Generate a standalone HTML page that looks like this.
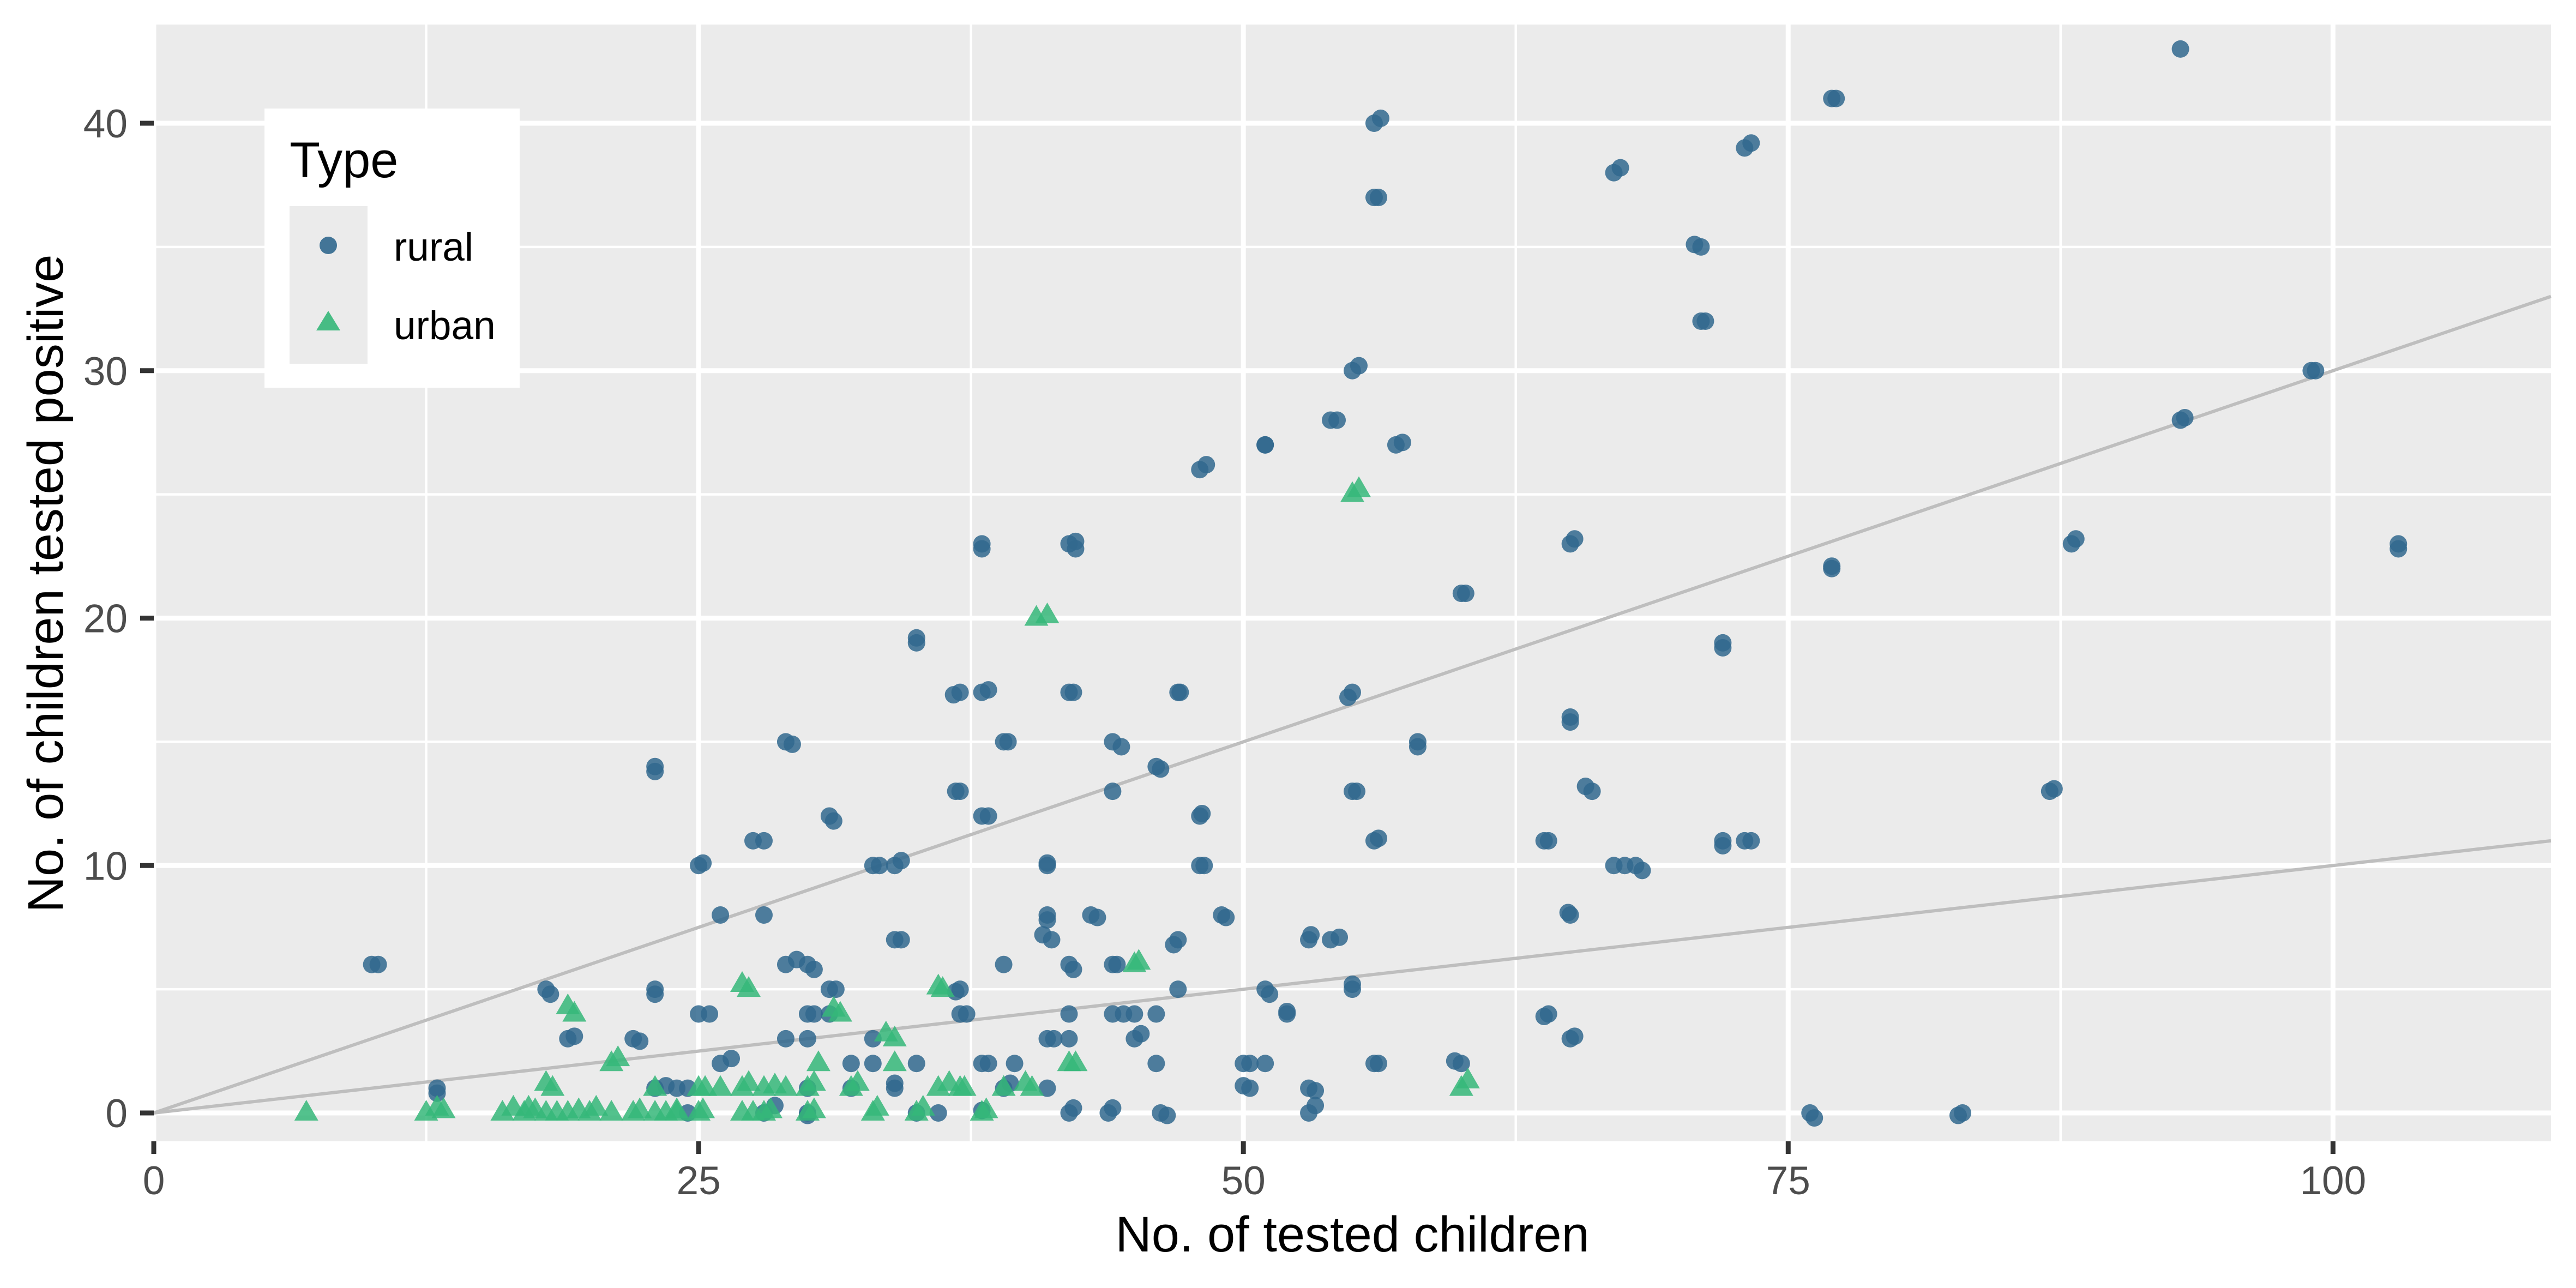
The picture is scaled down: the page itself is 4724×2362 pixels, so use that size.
<!DOCTYPE html>
<html><head><meta charset="utf-8"><style>
html,body{margin:0;padding:0;background:#fff}
svg{display:block;font-family:"Liberation Sans",sans-serif}
</style></head><body>
<svg id="chart" width="4724" height="2362" viewBox="0 0 4724 2362">
<rect x="0" y="0" width="4724" height="2362" fill="#fff"/>
<g id="panel"></g>
<g id="axes"></g>
<text x="2480" y="2295" font-size="92" text-anchor="middle" fill="#000">No. of tested children</text>
<text transform="translate(115,1070) rotate(-90)" font-size="92" text-anchor="middle" fill="#000">No. of children tested positive</text>
<g>
<rect x="485" y="199" width="468" height="512" fill="#fff"/>
<text x="531" y="325" font-size="92" fill="#000">Type</text>
<rect x="531" y="378" width="143" height="289" fill="#EBEBEB"/>
<circle cx="602" cy="450" r="16" fill="#31688E" fill-opacity="0.9"/>
<polygon points="602,570 624,606 580,606" fill="#35B779" fill-opacity="0.9"/>
<text x="722" y="478" font-size="73" fill="#000">rural</text>
<text x="722" y="622" font-size="73" fill="#000">urban</text>
</g>
</svg>
<script>
const xTicks=[0,25,50,75,100];
const yTicks=[0,10,20,30,40];
const xMinor=[12.5,37.5,62.5,87.5];
const yMinor=[5,15,25,35];
const refSlopes=[0.3,0.1];
const ruralX=[10,10.3,13,13,18,18.2,19,19.3,22,22.3,23,23,23,23,23,23.5,24,24.5,25,25.2,25,25.5,24.5,26,26,26.5,27.5,28,28,28,28.5,29,29.3,29,29.5,29,30,30,30.3,30,30.3,30,30,30,31,31.2,31,31.3,31,32,32,33,33.3,33,33,34,34.3,34,34.3,34,34,35,35,35,35,36,37,36.7,37,36.8,37,36.8,37,37.3,38,38,38,38.3,38,38.3,38,38.3,38,39,39.2,39,39,39.5,39.3,41,41,41,41,40.8,41.2,41,41.3,41,42,42.3,42.3,42,42.2,42,42.2,42,42,42.2,42,43,43.3,44,44.4,44,44,44.2,44,44.5,44,43.8,45,45,45.3,46,46.2,46,46,46.2,46.5,47,47.1,47,46.8,47,48,48.3,48,48.1,48,48.2,49,49.2,50,50.3,50.3,50,51,51,51,51.2,51,52,52,53,53.1,53,53.3,53,53.3,54,54.3,54,54.4,55,55.3,55,54.8,55,55.2,55,55,56,56.3,56,56.2,56,56.2,56,56.2,57,57.3,58,58,60,60.2,60,59.7,63.8,64,64,63.8,65,65.2,65,65,65,64.9,65,65.2,66,65.7,67,67.3,67,67.5,68,68.3,71,70.7,71,71.2,72,72,72,72,73,73.3,73,73.3,76,76.2,77,77.2,77,77,83,82.8,87,87.2,88,88.2,93,93,93.2,99,99.2,103,103];
const ruralY=[6,6,1,0.8,5,4.8,3,3.1,3,2.9,14,13.8,5,4.8,1,1.1,1,1,10,10.1,4,4,0,8,2,2.2,11,11,8,0,0.3,15,14.9,6,6.2,3,3,6,5.8,4,4,0,1,-0.1,12,11.8,5,5,4,2,1,10,10,3,2,7,7,10,10.2,1,1.2,19,19.2,2,0,0,17,16.9,13,13,5,4.9,4,4,23,22.8,17,17.1,12,12,2,2,0.1,15,15,6,1,2,1.2,10,10.1,8,7.8,7.2,7,3,3,1,23,23.1,22.8,17,17,6,5.8,4,3,0.2,0,8,7.9,15,14.8,13,6,6,4,4,0.2,0,4,3,3.2,14,13.9,4,2,0,-0.1,17,17,7,6.8,5,26,26.2,12,12.1,10,10,8,7.9,2,2,1,1.1,27,27,5,4.8,2,4,4.1,7,7.2,1,0.9,0,0.3,28,28,7,7.1,30,30.2,17,16.8,13,13,5,5.2,40,40.2,37,37,11,11.1,2,2,27,27.1,15,14.8,21,21,2,2.1,11,11,4,3.9,23,23.2,16,15.8,8,8.1,3,3.1,13,13.2,38,38.2,10,10,10,9.8,35,35.1,32,32,19,18.8,11,10.8,39,39.2,11,11,0,-0.2,41,41,22,22.1,0,-0.1,13,13.1,23,23.2,43,28,28.1,30,30,23,22.8];
const urbanX=[7,12.5,13,13.3,16,16.5,17,17.2,17.5,18,18,18.3,18.5,19,19.3,19,19.5,20,20.3,21,21.3,21,22,22.3,23,23.5,23,24,24,25,25.3,25,25.2,26,27,27.3,27,27.3,27,27.5,28,28,28.3,28.5,29,30,30.3,30.5,30,30.3,31.5,31.2,32,32.3,33,33.2,33.6,34,34,35,35.3,36,36.2,36,36.5,37,37.2,38,38.2,39,40,40.3,40.5,41,42,42.3,45,45.2,55,55.3,60,60.3];
const urbanY=[0,0,0.2,0.1,0,0.2,0,0.2,0.1,0,1.2,1,0,4.3,4,0,0.1,0,0.2,2,2.2,0,0,0.1,0,0,1,0,0.1,1,1,0,0.1,1,5.2,5,1,1.2,0,0,1,0,0.1,1.1,1,1,1.2,2,0,0.1,4,4.2,1,1.2,0,0.2,3.2,3,2,0,0.2,5.1,5,1,1.2,1,1,0,0.1,1,1.2,1,20,20.1,2,2,6,6.1,25,25.2,1,1.3];

const NS='http://www.w3.org/2000/svg';
const PL=282,PR=4678,PT=45,PB=2093;
const XMIN=0,XMAX=110,Y0PX=2041,YPU=45.375;
function sx(v){return PL+(v-XMIN)/(XMAX-XMIN)*(PR-PL);}
function sy(v){return Y0PX-v*YPU;}
function mk(tag,attrs,parent){const e=document.createElementNS(NS,tag);for(const k in attrs)e.setAttribute(k,attrs[k]);parent.appendChild(e);return e;}
const panel=document.getElementById('panel');
const axes=document.getElementById('axes');
let bg=mk('rect',{x:PL,y:PT,width:PR-PL,height:PB-PT,fill:'#EBEBEB'},panel);


xMinor.forEach(v=>{const l=mk('line',{x1:sx(v),x2:sx(v),y1:PT,y2:PB,stroke:'#fff','stroke-width':4.5},panel);

});
yMinor.forEach(v=>{const l=mk('line',{x1:PL,x2:PR,y1:sy(v),y2:sy(v),stroke:'#fff','stroke-width':4.5},panel);

});
xTicks.forEach(v=>{const l=mk('line',{x1:sx(v),x2:sx(v),y1:PT,y2:PB,stroke:'#fff','stroke-width':9},panel);


const t=mk('line',{x1:sx(v),x2:sx(v),y1:PB,y2:PB+23,stroke:'#333','stroke-width':9},axes);


const tx=mk('text',{x:sx(v),y:2190,'font-size':73,'text-anchor':'middle',fill:'#4D4D4D'},axes);
tx.textContent=v;

});
yTicks.forEach(v=>{const l=mk('line',{x1:PL,x2:PR,y1:sy(v),y2:sy(v),stroke:'#fff','stroke-width':9},panel);


const t=mk('line',{x1:PL-25,x2:PL,y1:sy(v),y2:sy(v),stroke:'#333','stroke-width':9},axes);


const tx=mk('text',{x:234,y:sy(v)+26,'font-size':73,'text-anchor':'end',fill:'#4D4D4D'},axes);
tx.textContent=v;

});
refSlopes.forEach(s=>{const l=mk('line',{x1:sx(0),y1:sy(0),x2:sx(XMAX),y2:sy(s*XMAX),stroke:'#BEBEBE','stroke-width':6},panel);

});
ruralX.forEach((x,i)=>{const c=mk('circle',{cx:sx(x),cy:sy(ruralY[i]),r:16,fill:'#31688E','fill-opacity':0.85},panel);

});
urbanX.forEach((x,i)=>{const cx=sx(x),cy=sy(urbanY[i]);
const p=mk('polygon',{points:`${cx},${cy-24} ${cx+22},${cy+14} ${cx-22},${cy+14}`,fill:'#35B779','fill-opacity':0.85},panel);

});
</script>
</body></html>
